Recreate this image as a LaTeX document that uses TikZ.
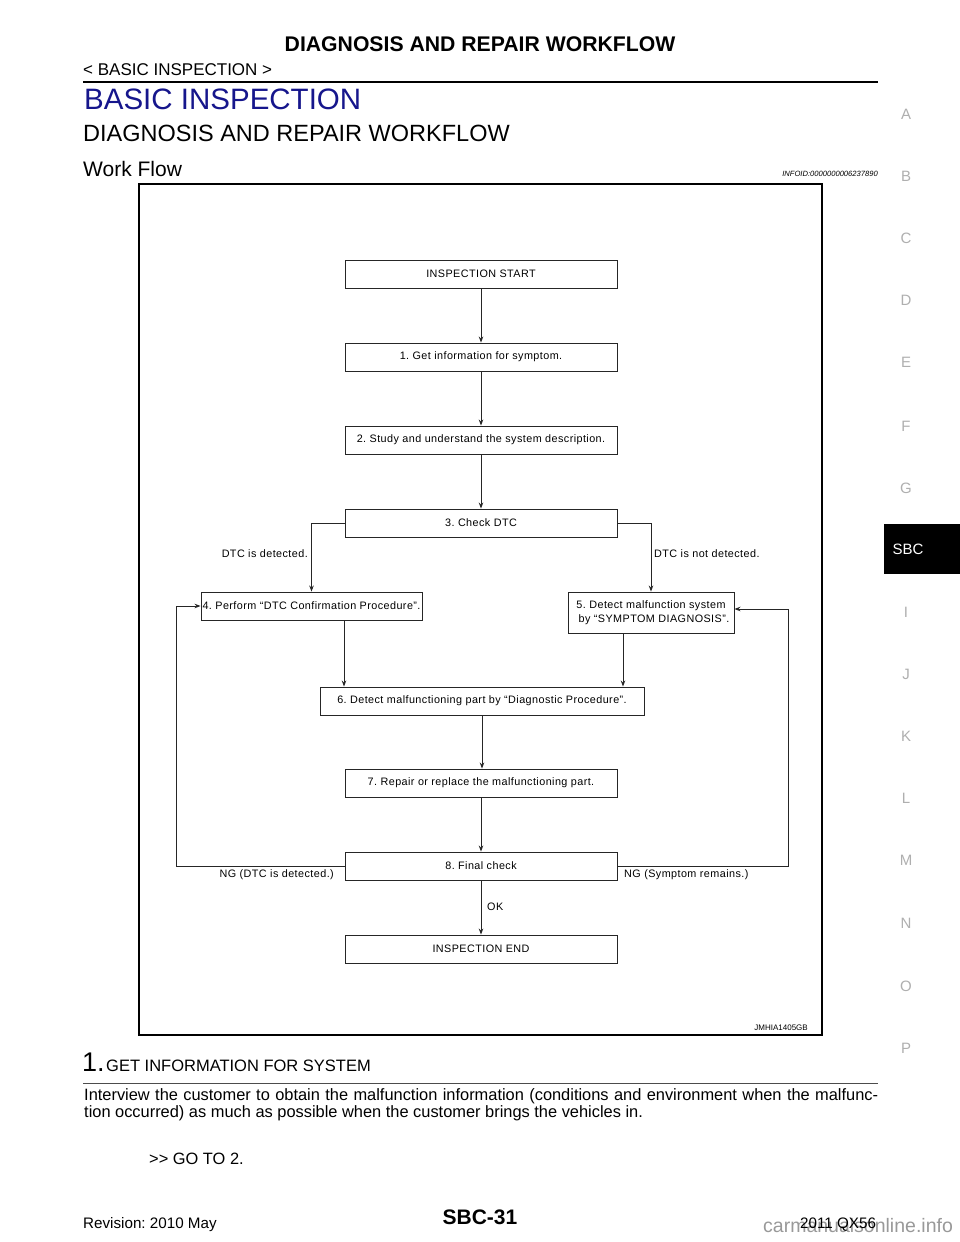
\documentclass[tikz,border=0pt]{standalone}
\usepackage{fontspec}
\setmainfont{Liberation Sans}
\newfontfamily\flowf[LetterSpace=4]{Liberation Sans}
\usetikzlibrary{arrows.meta}
\definecolor{headblue}{RGB}{22,22,140}
\definecolor{tabgray}{RGB}{175,175,175}
\frenchspacing
\begin{document}
\frenchspacing
\begin{tikzpicture}[x=1pt,y=-1pt,
  fbox/.style={draw=black!85,line width=0.9pt,inner sep=0pt,minimum height=28pt,font=\flowf\fontsize{10.8}{12}\selectfont},
  arr/.style={draw=black!85,line width=0.9pt,-{Stealth[length=6pt,width=4.5pt]}},
  lbl/.style={inner sep=0pt,font=\flowf\fontsize{10.8}{12}\selectfont},
  txt/.style={inner sep=0pt,anchor=base west},
  tab/.style={inner sep=0pt,text=tabgray,font=\fontsize{15}{16}\selectfont}]
\useasboundingbox[fill=white] (0,0) rectangle (960,1242);
% header
\node[inner sep=0pt,font=\bfseries\fontsize{21.2}{24}\selectfont] (title) at (480,44) {DIAGNOSIS AND REPAIR WORKFLOW};
\node[inner sep=0pt,anchor=west,font=\fontsize{17}{18}\selectfont] (crumb) at (83,70) {< BASIC INSPECTION >};
\draw[line width=2pt] (83,81.5) -- (878,81.5);
\node[inner sep=0pt,anchor=west,text=headblue,font=\fontsize{29.5}{34}\selectfont] (sec) at (84,99) {BASIC INSPECTION};
\node[inner sep=0pt,anchor=west,font=\fontsize{23.5}{26}\selectfont] (sub) at (83,133) {DIAGNOSIS AND REPAIR WORKFLOW};
\node[inner sep=0pt,anchor=west,font=\fontsize{21}{22}\selectfont] (wf) at (83,169) {Work Flow};
\node[inner sep=0pt,anchor=east,font=\itshape\fontsize{7.6}{8}\selectfont] (info) at (878,174) {INFOID:0000000006237890};
% frame
\draw[line width=1.6pt] (139,184) rectangle (822,1035);
\node[inner sep=0pt,anchor=east,font=\fontsize{8}{9}\selectfont] (jm) at (808,1028) {JMHIA1405GB};
% flow boxes
\node[fbox,minimum width=272pt] (s) at (481,274) {INSPECTION START};
\node[fbox,minimum width=272pt] (b1) at (481,357) {1. Get information for symptom.};
\node[fbox,minimum width=272pt] (b2) at (481,440) {2. Study and understand the system description.};
\node[fbox,minimum width=272pt] (b3) at (481,523) {3. Check DTC};
\node[fbox,minimum width=221pt] (b4) at (311.5,606) {4. Perform “DTC Confirmation Procedure”.};
\node[fbox,minimum width=166pt,minimum height=41pt,align=center] (b5) at (651,612.5) {5. Detect malfunction system\\[1.5pt]\hspace*{6pt}by “SYMPTOM DIAGNOSIS”.};
\node[fbox,minimum width=324pt] (b6) at (482,701) {6. Detect malfunctioning part by “Diagnostic Procedure”.};
\node[fbox,minimum width=272pt] (b7) at (481,783) {7. Repair or replace the malfunctioning part.};
\node[fbox,minimum width=272pt] (b8) at (481,866) {8. Final check};
\node[fbox,minimum width=272pt] (e) at (481,949) {INSPECTION END};
% connectors
\draw[arr] (s) -- (b1);
\draw[arr] (b1) -- (b2);
\draw[arr] (b2) -- (b3);
\draw[arr] (b3.west) -| (b4.north);
\draw[arr] (b3.east) -| (b5.north);
\draw[arr] ([xshift=32.5pt]b4.south) -- ([xshift=32.5pt]b4.south |- b6.north);
\draw[arr] ([xshift=-28pt]b5.south) -- ([xshift=-28pt]b5.south |- b6.north);
\draw[arr] (b6) -- (b6.south |- b7.north);
\draw[arr] (b7) -- (b8);
\draw[arr] (b8) -- (e);
\coordinate (lft) at (176,606);
\coordinate (rgt) at (788,609);
\draw[arr] (b8.west) -| (lft) -- (b4.west);
\draw[arr] (b8.east) -| (rgt) -- (rgt -| b5.east);
% labels
\node[lbl,anchor=east] (l1) at (308,554) {DTC is detected.};
\node[lbl,anchor=west] (l2) at (654,554) {DTC is not detected.};
\node[lbl,anchor=east] (l3) at (334,875) {NG (DTC is detected.)};
\node[lbl,anchor=west] (l4) at (624,875) {NG (Symptom remains.)};
\node[lbl,anchor=west] (l5) at (487,907) {OK};
% body text
\node[txt,font=\fontsize{27}{30}\selectfont] (n1) at (82,1071) {1.};
\node[txt,font=\fontsize{16.5}{18}\selectfont] (step) at (106,1071.5) {GET INFORMATION FOR SYSTEM};
\draw[line width=1pt,black!70] (83,1083) -- (878,1083);
\node[txt,font=\fontsize{16.4}{18}\selectfont] (p1) at (84,1100.5) {\makebox[794pt][s]{Interview the customer to obtain the malfunction information (conditions and environment when the malfunc-}};
\node[txt,font=\fontsize{16.4}{18}\selectfont] (p2) at (84,1117.5) {tion occurred) as much as possible when the customer brings the vehicles in.};
\node[txt,font=\fontsize{16.4}{18}\selectfont] (go) at (149,1164) {>{}> GO TO 2.};
% footer
\node[txt,font=\fontsize{15.2}{18}\selectfont] (rev) at (83,1228) {Revision: 2010 May};
\node[inner sep=0pt,anchor=base,font=\bfseries\fontsize{21}{24}\selectfont] (pg) at (480,1224) {SBC-31};
\node[txt,text=black!40,font=\fontsize{19.5}{22}\selectfont] (wm) at (763,1232) {carmanualsonline.info};
\node[txt,font=\fontsize{15.2}{18}\selectfont] (yr) at (800,1228) {2011 QX56};
% side tabs
\node[tab] (ta) at (906,114) {A};
\node[tab] (tb) at (906,176) {B};
\node[tab] (tc) at (906,238) {C};
\node[tab] (td) at (906,300) {D};
\node[tab] (te) at (906,362) {E};
\node[tab] (tf) at (906,426) {F};
\node[tab] (tg) at (906,488) {G};
\fill[black] (884,524) rectangle (960,574);
\node[inner sep=0pt,text=white,font=\fontsize{15}{16}\selectfont] (tsbc) at (908,549) {SBC};
\node[tab] (ti) at (906,612) {I};
\node[tab] (tj) at (906,674) {J};
\node[tab] (tk) at (906,736) {K};
\node[tab] (tl) at (906,798) {L};
\node[tab] (tm) at (906,860) {M};
\node[tab] (tn) at (906,923) {N};
\node[tab] (to) at (906,986) {O};
\node[tab] (tp) at (906,1048) {P};
\end{tikzpicture}
\end{document}
